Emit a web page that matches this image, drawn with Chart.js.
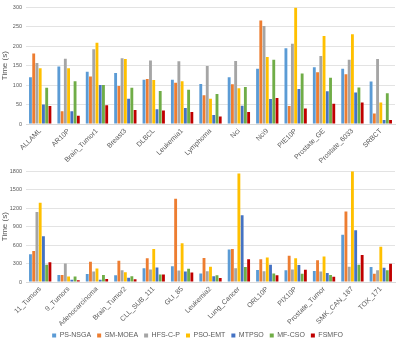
<!DOCTYPE html>
<html><head><meta charset="utf-8">
<script src="https://cdn.jsdelivr.net/npm/chart.js@4"></script>
<style>
html,body{margin:0;padding:0;background:#fff;width:399px;height:349px;overflow:hidden}
#w1{position:absolute;left:0;top:0;width:399px;height:164px}
#w2{position:absolute;left:0;top:164px;width:399px;height:185px}
</style></head><body>
<div id="w1"><canvas id="c1"></canvas></div>
<div id="w2"><canvas id="c2"></canvas></div>
<script>
const seriesNames = ["PS-NSGA","SM-MOEA","HFS-C-P","PSO-EMT","MTPSO","MF-CSO","FSMFO"];
const seriesColors = ["#5B9BD5","#ED7D31","#A5A5A5","#FFC000","#4472C4","#70AD47","#C00000"];

const topCategories = ["ALLAML","AR10P","Brain_Tumor1","Breast3","DLBCL","Leukemia1","Lymphoma","Nci","Nci9","PIE10P","Prostate_GE","Prostate_6033","SRBCT"];
const topPS_NSGA = [120,148,134,131,114,114,103,120,142,195,146,142,109];
const topSM_MOEA = [181,33,122,98,116,106,74,102,266,46,133,128,27];
const topHFS_C_P = [157,168,192,169,163,161,149,162,252,206,175,165,167];
const topPSO_EMT = [143,143,209,167,113,110,65,92,172,299,226,231,55];
const topMTPSO   = [50,33,100,65,38,41,23,47,64,90,84,81,10];
const topMF_CSO  = [93,110,100,93,85,88,77,95,165,130,119,94,79];
const topFSMFO   = [46,21,48,36,35,31,19,31,67,40,52,55,10];
const topTicks = {min:0,max:300,step:50};

const botCategories = ["11_Tumors","9_Tumors","Adenocarcinoma","Brain_Tumor2","CLL_SUB_111","GLI_85","Leukemia2","Lung_Cancer","ORL10P","PIX10P","Prostate_Tumor","SMK_CAN_187","TOX_171"];
const botPS_NSGA = [450,115,130,110,225,255,140,530,195,190,180,770,245];
const botSM_MOEA = [505,115,330,345,385,1355,390,535,370,425,355,1145,135];
const botHFS_C_P = [1140,300,170,190,205,185,175,225,175,205,170,250,190];
const botPSO_EMT = [1290,90,220,160,535,630,250,1765,400,385,415,1800,575];
const botMTPSO   = [745,35,35,70,235,170,95,1085,280,275,145,840,230];
const botMF_CSO  = [280,90,115,95,120,215,110,245,140,135,115,280,190];
const botFSMFO   = [320,30,50,45,120,155,65,370,110,200,85,440,295];
const botTicks = {min:0,max:1800,step:300};
</script>
<script>
const txt = "#595959";
const fam = 'Liberation Sans, Arial, sans-serif';
function makeDatasets(arrs){
  return arrs.map((d,i)=>({label:seriesNames[i],data:d,backgroundColor:seriesColors[i],
    categoryPercentage:0.8,barPercentage:0.88,borderWidth:0}));
}
function opts(t, legend, xh){
  return {
    responsive:true, maintainAspectRatio:false, animation:false,
    layout:{padding:{top:4,right:4,left:0,bottom:0}},
    plugins:{legend: legend ? {display:true,position:'bottom',
        labels:{boxWidth:4,boxHeight:4,color:txt,font:{family:fam,size:7},padding:6}} : {display:false},
      tooltip:{enabled:false}},
    scales:{
      x:{grid:{display:false,drawTicks:false},border:{color:'#d9d9d9'},
        ticks:{color:txt,minRotation:45,maxRotation:45,autoSkip:false,padding:3,font:{family:fam,size:7}},
        afterFit:s=>{s.height=xh;}},
      y:{min:t.min,max:t.max,grid:{color:'#e3e3e3',drawTicks:false},border:{display:false},
        ticks:{stepSize:t.step,color:txt,padding:4,font:{family:fam,size:5.5},callback:v=>String(v)},
        title:{display:true,text:'Time (s)',color:txt,padding:{top:0,bottom:2},font:{family:fam,size:8}},
        afterFit:s=>{s.width=26;}}
    }
  };
}
new Chart(document.getElementById('c1'),{type:'bar',
  data:{labels:topCategories,datasets:makeDatasets([topPS_NSGA,topSM_MOEA,topHFS_C_P,topPSO_EMT,topMTPSO,topMF_CSO,topFSMFO])},
  options:opts(topTicks,false,40)});
new Chart(document.getElementById('c2'),{type:'bar',
  data:{labels:botCategories,datasets:makeDatasets([botPS_NSGA,botSM_MOEA,botHFS_C_P,botPSO_EMT,botMTPSO,botMF_CSO,botFSMFO])},
  options:opts(botTicks,true,44)});
</script>
</body></html>
